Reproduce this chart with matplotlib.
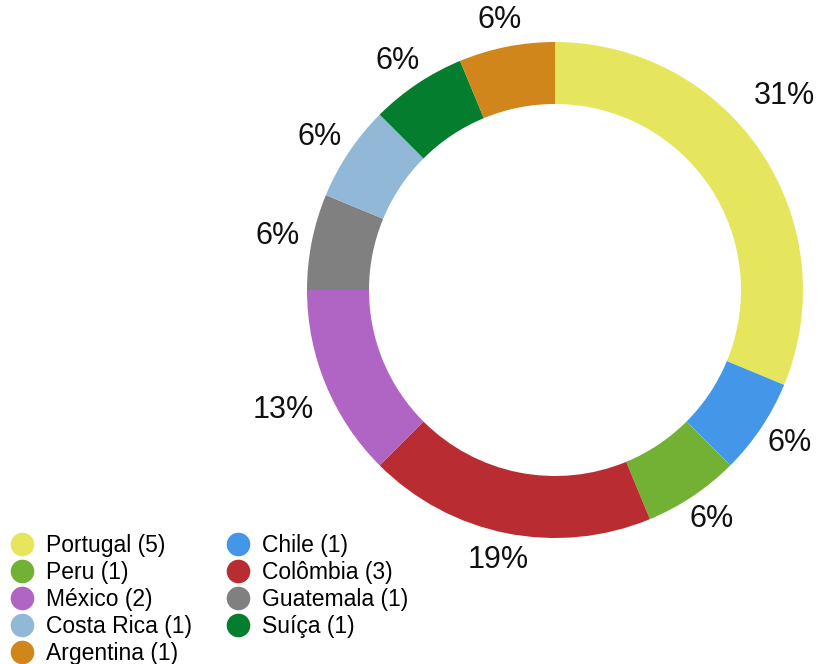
import matplotlib
matplotlib.use("Agg")
import numpy as np
import matplotlib.pyplot as plt
from matplotlib.lines import Line2D

countries = ["Portugal", "Chile", "Peru", "Colômbia", "México", "Guatemala", "Costa Rica", "Suíça", "Argentina"]
counts = [5, 1, 1, 3, 2, 1, 1, 1, 1]
colors = ["#e6e65e", "#4496e8", "#72b133", "#b92c32", "#b064c4", "#808080", "#92b8d8", "#047d2e", "#d0861a"]
# label placement tweaks (angular shift in degrees, radial anchor) as in the reference
label_shift = [8, 0, 0, 0, 2.5, 0, 0, 0, 0]
label_r = [1.115, 1.05, 1.05, 1.05, 1.085, 1.05, 1.05, 1.05, 1.05]

plt.rcParams['font.family'] = ['Liberation Sans', 'DejaVu Sans']

W, H = 821, 664
fig = plt.figure(figsize=(W / 100, H / 100), dpi=100)
fig.patch.set_facecolor("white")

R_px = 248
cx, cy = 555, 290
span = 1.2
size = 2 * span * R_px
ax = fig.add_axes([(cx - size / 2) / W, (H - cy - size / 2) / H, size / W, size / H])

wedges, texts = ax.pie(
    counts, colors=colors, startangle=90, counterclock=False, radius=1.0,
    wedgeprops=dict(width=0.25, edgecolor="none", linewidth=0))
ax.set_xlim(-span, span)
ax.set_ylim(-span, span)
ax.axis("off")

fig.canvas.draw()
renderer = fig.canvas.get_renderer()
total = sum(counts)
for w, c, sh, r in zip(wedges, counts, label_shift, label_r):
    mid = np.deg2rad((w.theta1 + w.theta2) / 2 + sh)
    pct = f"{int(c / total * 100 + 0.5)}%"
    t = ax.text(0, 0, pct, fontsize=22, color="#111111", ha="center", va="center")
    bb = t.get_window_extent(renderer)
    tw, th = bb.width / R_px, bb.height / R_px
    x = r * np.cos(mid) + tw / 2 * np.cos(mid)
    y = r * np.sin(mid) + th / 2 * np.sin(mid)
    t.set_position((x, y))

order = [0, 2, 4, 6, 8, 1, 3, 5, 7]
handles = [Line2D([], [], marker="o", linestyle="none", markersize=17,
                  markerfacecolor=colors[i], markeredgecolor="none") for i in order]
labels = [f"{countries[i]} ({counts[i]})" for i in order]
fig.legend(handles, labels, ncol=2, loc="lower left", bbox_to_anchor=(-0.004, -0.022),
           frameon=False, fontsize=16.5, handlelength=1.0, handletextpad=0.55,
           columnspacing=1.5, labelspacing=0.17, borderaxespad=0.2)

fig.savefig("out.png", dpi=100, facecolor="white")
